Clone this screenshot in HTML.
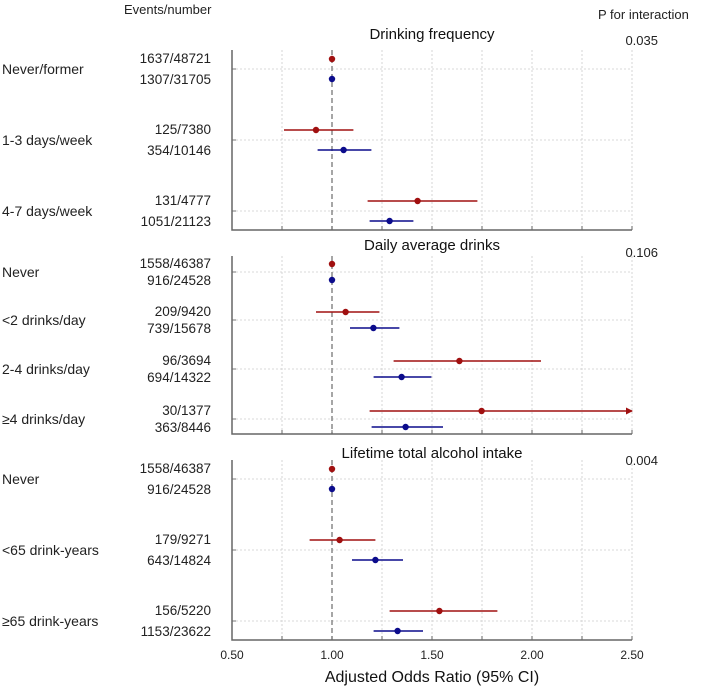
<!DOCTYPE html>
<html><head><meta charset="utf-8"><style>
html,body{margin:0;padding:0;background:#fff;}
svg{display:block;font-family:"Liberation Sans",Arial,sans-serif;}
</style></head><body>
<svg id="chart" width="709" height="686" viewBox="0 0 709 686">
<text x="124" y="14" font-size="13" fill="#222">Events/number</text>
<text x="598" y="19" font-size="13" fill="#222">P for interaction</text>
<g id="plots"></g>
<text x="432" y="682" font-size="16" text-anchor="middle" fill="#111">Adjusted Odds Ratio (95% CI)</text>
</svg>
<script>
const xTicks=[0.5,0.75,1.0,1.25,1.5,1.75,2.0,2.25,2.5];
const xTickLabels=["0.50","1.00","1.50","2.00","2.50"];
const panelTitles=["Drinking frequency","Daily average drinks","Lifetime total alcohol intake"];
const pValues=["0.035","0.106","0.004"];
const rowLabels=[["Never/former","1-3 days/week","4-7 days/week"],["Never","<2 drinks/day","2-4 drinks/day","≥4 drinks/day"],["Never","<65 drink-years","≥65 drink-years"]];
const redCounts=[["1637/48721","125/7380","131/4777"],["1558/46387","209/9420","96/3694","30/1377"],["1558/46387","179/9271","156/5220"]];
const blueCounts=[["1307/31705","354/10146","1051/21123"],["916/24528","739/15678","694/14322","363/8446"],["916/24528","643/14824","1153/23622"]];
const redOR=[[1.0,0.92,1.428],[1.0,1.068,1.637,1.748],[1.0,1.038,1.537]];
const redLo=[[null,0.76,1.178],[null,0.92,1.308,1.188],[null,0.888,1.288]];
const redHi=[[null,1.107,1.727],[null,1.237,2.045,3.0],[null,1.217,1.827]];
const blueOR=[[1.0,1.058,1.288],[1.0,1.207,1.348,1.368],[1.0,1.217,1.328]];
const blueLo=[[null,0.928,1.188],[null,1.09,1.208,1.198],[null,1.10,1.208]];
const blueHi=[[null,1.197,1.407],[null,1.337,1.497,1.555],[null,1.355,1.455]];

const NS="http://www.w3.org/2000/svg";
const X0=232,X1=632,XMIN=0.5,XMAX=2.5;
function xs(v){return X0+(v-XMIN)/(XMAX-XMIN)*(X1-X0);}
const panels=[{top:50,bot:230,rowY:[69,140,211],titleY:39,off:10},{top:256,bot:434,rowY:[272,320,369,419],titleY:250,off:8},{top:460,bot:640,rowY:[479,550,621],titleY:458,off:10}];
const g=document.getElementById('plots');
function el(tag,attrs,parent){const e=document.createElementNS(NS,tag);for(const k in attrs)e.setAttribute(k,attrs[k]);(parent||g).appendChild(e);return e;}
function txt(x,y,s,size,anchor,fill){const t=el('text',{x:x,y:y,'font-size':size,'text-anchor':anchor||'start',fill:fill||'#222'});t.textContent=s;return t;}

panels.forEach((p,pi)=>{
  xTicks.forEach(v=>{if(v===1.0)return;const l=el('line',{x1:xs(v),x2:xs(v),y1:p.top,y2:p.bot,stroke:'#ccc','stroke-width':0.8,'stroke-dasharray':'2,2'});
    
    });
  p.rowY.forEach(y=>{const l=el('line',{x1:X0,x2:X1,y1:y,y2:y,stroke:'#ccc','stroke-width':0.8,'stroke-dasharray':'2,2'});
    
    
    el('line',{x1:X0,x2:X0+4,y1:y,y2:y,stroke:'#777','stroke-width':1});});
  const ref=el('line',{x1:xs(1),x2:xs(1),y1:p.top,y2:p.bot,stroke:'#777','stroke-width':1.3,'stroke-dasharray':'5,3'});
  
  
  const ax=el('path',{d:`M${X0} ${p.top}V${p.bot}H${X1}`,fill:'none',stroke:'#666','stroke-width':1.5});
  
  
  xTicks.forEach(v=>el('line',{x1:xs(v),x2:xs(v),y1:p.bot,y2:p.bot-4,stroke:'#666','stroke-width':1}));
  const tt=txt(432,p.titleY,panelTitles[pi],15,'middle','#111');
  
  
  const pv=txt(658,p.titleY+7-(pi===0?1:0),pValues[pi],13,'end');
  
  
  rowLabels[pi].forEach((lab,ri)=>{
    const y=p.rowY[ri];
    const yr=y-p.off, yb=y+p.off;
    const lt=txt(2,y+5,lab,14);
    
    
    const rc=txt(211,yr+4,redCounts[pi][ri],13.5,'end');
    
    
    const bc=txt(211,yb+5,blueCounts[pi][ri],13.5,'end');
    
    
    [[redOR,redLo,redHi,'#a01010',yr],[blueOR,blueLo,blueHi,'#0c0c8c',yb]].forEach(([o,lo,hi,c,yy])=>{
      if(lo[pi][ri]!==null){
        const h=Math.min(hi[pi][ri],XMAX);
        const ci=el('line',{x1:xs(lo[pi][ri]),x2:xs(h),y1:yy,y2:yy,stroke:c,'stroke-width':1.5});
        
        
        if(hi[pi][ri]>XMAX){const a=el('path',{d:`M${xs(XMAX)+1} ${yy}l-7 -3.5v7z`,fill:c});
          
          }
      }
      const d=el('circle',{cx:xs(o[pi][ri]),cy:yy,r:3.2,fill:c});
      
      
    });
  });
});
xTickLabels.forEach(s=>{const t=txt(xs(parseFloat(s)),659,s,12,'middle');
  
  });
</script>
</body></html>
